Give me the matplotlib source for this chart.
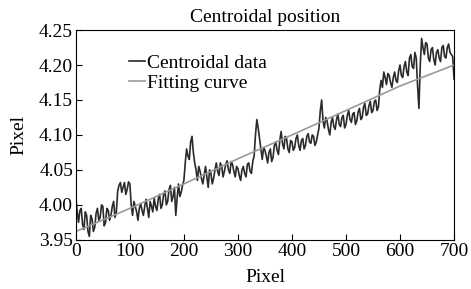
import numpy as np
import matplotlib.pyplot as plt

plt.rcParams['font.family'] = ['Liberation Serif', 'DejaVu Serif']

x_data = np.arange(0, 700.1, 2.5)
y_data = [4.012, 3.990, 3.975, 3.992, 3.995, 3.972, 3.965, 3.990, 3.985, 3.962,
          3.955, 3.985, 3.980, 3.962, 3.968, 3.988, 3.995, 3.978, 3.982, 4.000,
          3.998, 3.970, 3.975, 3.995, 3.992, 3.978, 3.985, 3.998, 4.005, 3.982,
          3.990, 4.020, 4.028, 4.032, 4.018, 4.025, 4.032, 4.015, 4.022, 4.033,
          4.030, 4.000, 3.985, 4.005, 3.998, 3.990, 3.978, 3.995, 4.002, 3.992,
          3.985, 3.998, 4.008, 3.995, 3.982, 4.005, 3.998, 3.990, 4.010, 3.998,
          3.992, 4.008, 4.015, 3.995, 4.000, 4.015, 4.020, 4.000, 4.005, 4.022,
          4.028, 4.005, 4.012, 4.025, 3.985, 4.010, 4.030, 4.012, 4.018, 4.028,
          4.035, 4.060, 4.080, 4.070, 4.065, 4.090, 4.098, 4.075, 4.060, 4.050,
          4.035, 4.055, 4.048, 4.038, 4.030, 4.042, 4.055, 4.040, 4.025, 4.050,
          4.045, 4.030, 4.038, 4.050, 4.060, 4.048, 4.042, 4.060, 4.055, 4.040,
          4.048, 4.058, 4.063, 4.050, 4.045, 4.062, 4.058, 4.048, 4.040, 4.055,
          4.052, 4.042, 4.035, 4.050, 4.055, 4.045, 4.040, 4.058, 4.060, 4.048,
          4.045, 4.062, 4.070, 4.100, 4.122, 4.110, 4.095, 4.080, 4.065, 4.082,
          4.078, 4.070, 4.060, 4.075, 4.080, 4.062, 4.068, 4.085, 4.090, 4.078,
          4.072, 4.092, 4.105, 4.088, 4.080, 4.098, 4.095, 4.080, 4.075, 4.092,
          4.090, 4.078, 4.082, 4.095, 4.100, 4.085, 4.078, 4.092, 4.095, 4.080,
          4.085, 4.098, 4.102, 4.090, 4.088, 4.100, 4.098, 4.085, 4.090, 4.100,
          4.110, 4.135, 4.150, 4.120, 4.110, 4.125, 4.120, 4.108, 4.100, 4.118,
          4.125, 4.112, 4.108, 4.122, 4.130, 4.115, 4.112, 4.125, 4.128, 4.110,
          4.115, 4.128, 4.135, 4.122, 4.118, 4.130, 4.132, 4.115, 4.120, 4.133,
          4.138, 4.122, 4.125, 4.140, 4.145, 4.128, 4.130, 4.142, 4.148, 4.132,
          4.135, 4.148, 4.150, 4.135, 4.140, 4.165, 4.178, 4.168, 4.190, 4.182,
          4.172, 4.188, 4.185, 4.175, 4.168, 4.182, 4.190, 4.178, 4.175, 4.192,
          4.200, 4.185, 4.182, 4.198, 4.205, 4.190, 4.185, 4.210, 4.215, 4.198,
          4.195, 4.218, 4.210, 4.170, 4.138, 4.200, 4.238, 4.225, 4.215, 4.232,
          4.230, 4.210, 4.205, 4.222, 4.225, 4.208, 4.200, 4.218, 4.222, 4.210,
          4.205, 4.225, 4.228, 4.212, 4.210, 4.225, 4.230, 4.218, 4.215, 4.212,
          4.180]

# fitting curve
x_fit = [0, 100, 200, 300, 400, 500, 600, 700]
y_fit = [3.962, 3.995, 4.030, 4.066, 4.100, 4.135, 4.170, 4.200]

fig = plt.figure(figsize=(4.71, 2.89), dpi=100)
ax = fig.add_axes([0.161, 0.170, 0.803, 0.726])

ax.plot(x_data, y_data, color='#2a2a2a', lw=1.2, label='Centroidal data')
ax.plot(x_fit, y_fit, color='#9a9a9a', lw=1.2, label='Fitting curve')

ax.set_xlim(0, 700)
ax.set_ylim(3.95, 4.25)
ax.set_xticks(np.arange(0, 701, 100))
ax.set_yticks(np.arange(3.95, 4.251, 0.05))
ax.yaxis.set_major_formatter(plt.FormatStrFormatter('%.2f'))
ax.tick_params(direction='in', labelsize=14, length=4, pad=2)

ax.set_title('Centroidal position', fontsize=14, pad=6)
ax.set_xlabel('Pixel', fontsize=14, labelpad=7)
ax.set_ylabel('Pixel', fontsize=14, labelpad=8)

ax.legend(loc='upper left', frameon=False, fontsize=14, handlelength=0.8,
          handletextpad=0.1, borderaxespad=0.3, labelspacing=0.15,
          bbox_to_anchor=(0.105, 0.95))

fig.savefig('out.png', dpi=100)
